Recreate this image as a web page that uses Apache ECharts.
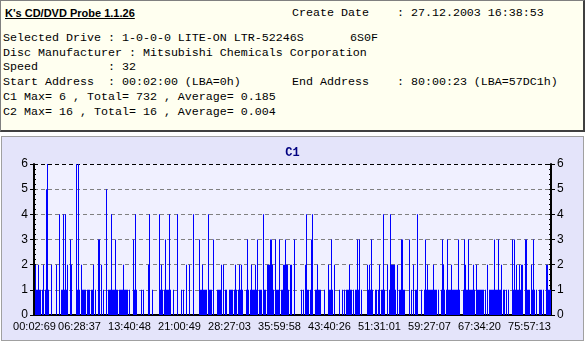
<!DOCTYPE html>
<html>
<head>
<meta charset="utf-8">
<script src="https://cdn.jsdelivr.net/npm/echarts@6/dist/echarts.min.js"></script>
<style>
  html, body { margin: 0; padding: 0; background: #ffffff; }
  #page { position: relative; width: 585px; height: 343px; overflow: hidden; }
  #info {
    position: absolute; left: 0; top: 0; width: 582px; height: 129px;
    background: #fffff0;
    border-left: 1px solid #808080; border-top: 1px solid #808080;
    border-right: 2px solid #404040; border-bottom: 2px solid #404040;
  }
  #info div { position: absolute; white-space: pre; line-height: 14px; }
  .mono { font-family: "Liberation Mono", monospace; font-size: 11.67px; color: #000; }
  .head { font-family: "Liberation Sans", Arial, sans-serif; font-size: 11px; font-weight: bold; text-decoration: underline; color: #000; }
  #panel {
    position: absolute; left: 1px; top: 136px; width: 581px; height: 203px;
    background: #e4e4fa; border: 1px solid #a0a0a0;
  }
  #chart { position: absolute; left: 0; top: 0; width: 585px; height: 343px; }
</style>
</head>
<body>
<div id="page">
  <div id="info">
    <div class="head" style="left:4px; top:5px;">K's CD/DVD Probe 1.1.26</div>
    <div class="mono" style="left:291px; top:5px;">Create Date    : 27.12.2003 16:38:53</div>
    <div class="mono" style="left:2px; top:30px;">Selected Drive : 1-0-0-0 LITE-ON LTR-52246S</div>
    <div class="mono" style="left:349px; top:30px;">6S0F</div>
    <div class="mono" style="left:2px; top:45px;">Disc Manufacturer : Mitsubishi Chemicals Corporation</div>
    <div class="mono" style="left:2px; top:59px;">Speed          : 32</div>
    <div class="mono" style="left:2px; top:74px;">Start Address  : 00:02:00 (LBA=0h)</div>
    <div class="mono" style="left:291px; top:74px;">End Address    : 80:00:23 (LBA=57DC1h)</div>
    <div class="mono" style="left:2px; top:89px;">C1 Max= 6 , Total= 732 , Average= 0.185</div>
    <div class="mono" style="left:2px; top:104px;">C2 Max= 16 , Total= 16 , Average= 0.004</div>
  </div>
  <div id="panel"></div>
  <div id="chart"></div>
</div>
<script>
// --- data (one value per pixel column of the plot) ---
const c1Values = [
  0,2,1,1,2,1,1,0,1,2, 0,1,5,6,1,0,0,2,0,0, 0,0,2,0,0,4,0,1,1,4, 1,4,1,2,0,0,3,2,0,0,
  0,0,6,1,6,1,0,2,1,1, 1,1,0,1,1,1,0,1,1,2, 0,1,0,0,3,3,0,2,0,1, 0,0,5,0,1,1,1,4,1,1,
  1,3,1,1,0,1,1,1,1,2, 1,1,1,1,0,1,0,0,0,3, 1,4,1,0,0,0,0,1,0,1, 0,0,0,0,2,4,0,0,1,0,
  0,0,0,0,0,4,1,2,1,0, 1,3,1,1,1,4,1,0,0,1, 0,0,0,4,0,0,0,1,0,1, 0,0,2,0,0,2,0,0,0,4,
  0,0,0,0,0,3,1,1,2,1, 1,1,1,0,4,1,1,1,0,3, 0,0,0,1,1,1,1,2,0,2, 0,1,1,0,0,1,1,1,1,0,
  1,2,1,0,1,2,1,2,1,0, 0,0,1,3,1,0,1,2,1,1, 1,2,1,3,0,1,1,1,0,4, 1,1,0,2,2,2,3,3,2,1,
  0,3,1,1,1,3,0,1,1,2, 2,3,2,2,1,0,2,2,0,0, 3,0,0,0,0,0,0,1,0,1, 0,2,4,1,1,0,1,3,4,0,
  0,1,1,2,1,1,1,0,0,0, 1,0,0,0,2,1,1,3,1,0, 2,0,0,0,0,1,0,0,1,0, 1,0,1,1,1,2,1,1,0,1,
  0,1,1,3,1,3,0,1,0,0, 0,0,0,2,1,2,1,3,1,0, 0,1,1,0,1,2,0,1,1,4, 1,0,0,2,0,1,4,2,2,2,
  2,1,0,2,0,1,1,3,3,1, 1,0,0,0,0,3,0,1,0,2, 0,1,1,4,0,0,0,1,0,0, 1,3,1,2,1,1,1,1,1,2,
  1,1,1,0,1,0,0,1,3,2, 1,0,1,3,1,1,1,2,1,1, 1,1,1,1,3,1,0,0,0,1, 3,2,1,1,3,1,1,1,1,2,
  1,0,2,1,1,1,1,1,1,1, 0,1,0,2,0,1,1,1,1,1, 3,1,1,1,3,1,1,2,0,1, 1,0,1,0,1,0,0,0,3,1,
  3,1,2,1,1,2,1,2,2,0, 0,3,3,1,1,1,0,2,1,3, 1,0,1,0,0,1,1,1,0,1, 0,0,2,2,1,1,1
]
const xTickLabels = ['00:02:69', '06:28:37', '13:40:48', '21:00:49', '28:27:03', '35:59:58',
  '43:40:26', '51:31:01', '59:27:07', '67:34:20', '75:57:13']
const xTickIndex = [0, 45, 95, 145, 195, 245, 295, 345, 395, 445, 495]
const xMinorIndex = [23, 70, 120, 170, 220, 270, 320, 370, 420, 470, 507]
const yMax = 6

const categories = c1Values.map((_, i) => i)
const isMajor = (i) => xTickIndex.includes(i)
const isMinor = (i) => xMinorIndex.includes(i)

const chart = echarts.init(document.getElementById('chart'))

// grid lines: gray dashes, the top one (6) black
const splitColors = []
for (let v = 0; v <= yMax; v++) splitColors.push(v === yMax ? '#000000' : '#808080')

const valueAxis = (pos, step, minor) => ({
  type: 'value',
  position: pos,
  min: 0,
  max: yMax,
  interval: step,
  axisLine: { show: !minor, lineStyle: { color: '#000', width: 2 } },
  axisTick: { show: true, inside: minor, length: minor ? 2 : 4, lineStyle: { color: '#000' } },
  axisLabel: {
    show: !minor, color: '#000', fontSize: 12, margin: 6,
    fontFamily: 'Liberation Sans, Arial, sans-serif',
  },
  splitLine: {
    show: pos === 'left' && !minor,
    lineStyle: { color: splitColors, type: [4, 3], width: 1 },
  },
})

const options = {
  animation: false,
  title: {
    text: 'C1',
    left: 'center',
    top: 142,
    textStyle: { color: '#000080', fontSize: 12, fontWeight: 'bold', fontFamily: 'Liberation Mono, monospace' },
  },
  grid: {
    left: 34, right: 34, top: 164, bottom: 28,
    show: true, backgroundColor: '#f0f0ff', borderWidth: 0,
  },
  xAxis: [
    {
      type: 'category',
      data: categories,
      position: 'bottom',
      axisLine: { lineStyle: { color: '#000', width: 2 } },
      axisTick: { alignWithLabel: true, interval: (i) => isMajor(i), length: 4, lineStyle: { color: '#808080' } },
      axisLabel: {
        interval: (i) => isMajor(i),
        formatter: (v, i) => xTickLabels[xTickIndex.indexOf(i)],
        color: '#000', fontSize: 11, margin: 6,
        fontFamily: 'Liberation Sans, Arial, sans-serif',
      },
      splitLine: { show: false },
    },
    {
      type: 'category',
      data: categories,
      position: 'bottom',
      axisLine: { show: false },
      axisTick: { alignWithLabel: true, interval: (i) => isMinor(i), length: 2, lineStyle: { color: '#808080' } },
      axisLabel: { show: false },
      splitLine: { show: false },
    },
  ],
  yAxis: [
    valueAxis('left', 1, false),
    valueAxis('right', 1, false),
    valueAxis('left', 0.2, true),
    valueAxis('right', 0.2, true),
  ],
  series: [
    {
      name: 'C1',
      type: 'bar',
      data: c1Values,
      xAxisIndex: 0,
      yAxisIndex: 0,
      barCategoryGap: '0%',
      barGap: '0%',
      itemStyle: { color: '#0000ff' },
    },
  ],
}

chart.setOption(options)
</script>
</body>
</html>
